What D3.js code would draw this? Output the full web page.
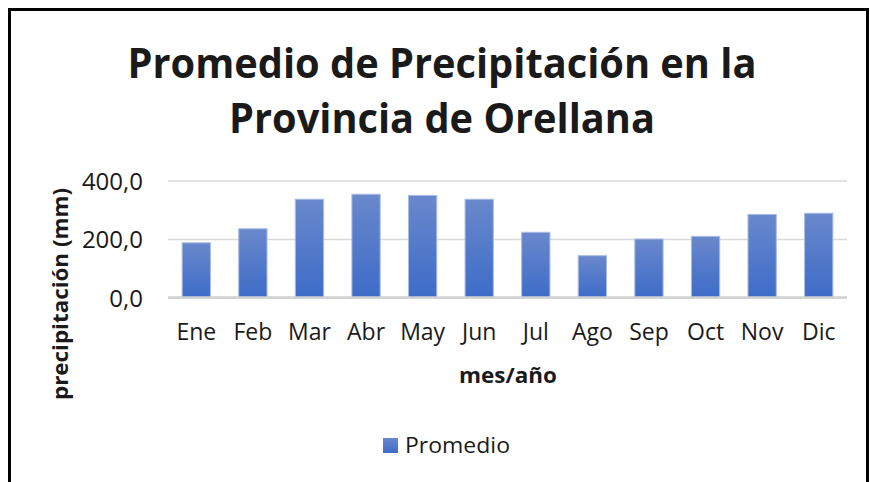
<!DOCTYPE html>
<html>
<head>
<meta charset="utf-8">
<script src="https://cdn.jsdelivr.net/npm/d3@7"></script>
<style>
  body { margin: 0; background: #fff; }
  text { font-family: "Open Sans", "Noto Sans", sans-serif; fill: #1a1a1a; }
</style>
</head>
<body>
<div id="chart"></div>
<script>
// Data
const months = ['Ene', 'Feb', 'Mar', 'Abr', 'May', 'Jun', 'Jul', 'Ago', 'Sep', 'Oct', 'Nov', 'Dic'];
const promedio = [187, 235, 336, 353, 349, 336, 223, 143, 200, 209, 284, 288];
const yTicks = [0, 200, 400];

// Dimensions
const W = 870, H = 482;
const margin = {top: 180.5, right: 23, bottom: 184.5, left: 168};
const width = W - margin.left - margin.right;
const height = H - margin.top - margin.bottom;

const svg = d3.select('#chart')
  .append('svg')
  .attr('width', W)
  .attr('height', H);

// Frame
svg.append('rect')
  .attr('x', 9.5).attr('y', 9.5)
  .attr('width', 858).attr('height', 490)
  .attr('fill', 'none')
  .attr('stroke', '#000')
  .attr('stroke-width', 3);

// Gradient for bars
const grad = svg.append('defs').append('linearGradient')
  .attr('id', 'barGrad')
  .attr('x1', 0).attr('y1', 0).attr('x2', 0).attr('y2', 1);
grad.append('stop').attr('offset', '0%').attr('stop-color', '#6a88cc');
grad.append('stop').attr('offset', '100%').attr('stop-color', '#3d6cc8');

// Title
const title = svg.append('text')
  .attr('text-anchor', 'middle')
  .style('font-weight', 'bold')
  .style('font-size', '42px');
title.append('tspan').attr('x', 442).attr('y', 78)
  .attr('textLength', 629).attr('lengthAdjust', 'spacingAndGlyphs')
  .text('Promedio de Precipitación en la');
title.append('tspan').attr('x', 442).attr('y', 133)
  .attr('textLength', 426).attr('lengthAdjust', 'spacingAndGlyphs')
  .text('Provincia de Orellana');

const g = svg.append('g')
  .attr('transform', `translate(${margin.left}, ${margin.top})`);

// Scales
const xScale = d3.scaleBand().domain(months).range([0, width]).paddingInner(0.5).paddingOuter(0.25);
const yScale = d3.scaleLinear().domain([0, 400]).range([height, 0]);

// Grid
const yAxis = d3.axisLeft(yScale)
  .tickValues(yTicks)
  .tickSize(-width)
  .tickPadding(25)
  .tickFormat(d => d3.format('.1f')(d).replace('.', ','));

g.append('g')
  .attr('class', 'y axis')
  .call(yAxis)
  .call(a => a.select('.domain').remove())
  .call(a => a.selectAll('.tick line').attr('stroke', '#d9d9d9').attr('stroke-width', 1.5))
  .call(a => a.selectAll('.tick text').style('font-size', '24px').attr('fill', '#222').attr('dy', '0.36em'));

// Bars
g.append('g')
  .selectAll('rect')
  .data(promedio)
  .enter()
  .append('rect')
  .attr('x', (d, i) => xScale(months[i]))
  .attr('y', d => yScale(d))
  .attr('width', xScale.bandwidth())
  .attr('height', d => height - yScale(d))
  .attr('fill', 'url(#barGrad)')
  .attr('stroke', '#a9bce6')
  .attr('stroke-width', 1);

// Baseline
g.append('line')
  .attr('x1', 0).attr('x2', width)
  .attr('y1', height).attr('y2', height)
  .attr('stroke', '#d0d0d0').attr('stroke-width', 2.5);

// X axis
const xAxis = d3.axisBottom(xScale).tickSize(0).tickPadding(26);
g.append('g')
  .attr('class', 'x axis')
  .attr('transform', `translate(0, ${height})`)
  .call(xAxis)
  .call(a => a.select('.domain').remove())
  .call(a => a.selectAll('.tick text').style('font-size', '23px').attr('fill', '#222'));

// Axis titles
svg.append('text')
  .attr('text-anchor', 'middle')
  .attr('x', 508).attr('y', 383)
  .attr('textLength', 98).attr('lengthAdjust', 'spacingAndGlyphs')
  .style('font-weight', 'bold')
  .style('font-size', '21px')
  .text('mes/año');

svg.append('text')
  .attr('text-anchor', 'middle')
  .attr('transform', 'translate(68, 294) rotate(-90)')
  .attr('textLength', 212).attr('lengthAdjust', 'spacingAndGlyphs')
  .style('font-weight', 'bold')
  .style('font-size', '21px')
  .text('precipitación (mm)');

// Legend
svg.append('rect')
  .attr('x', 383).attr('y', 438)
  .attr('width', 15).attr('height', 15)
  .attr('fill', 'url(#barGrad)');
svg.append('text')
  .attr('x', 405).attr('y', 453)
  .attr('textLength', 105).attr('lengthAdjust', 'spacingAndGlyphs')
  .style('font-size', '22px')
  .text('Promedio');
</script>
</body>
</html>
